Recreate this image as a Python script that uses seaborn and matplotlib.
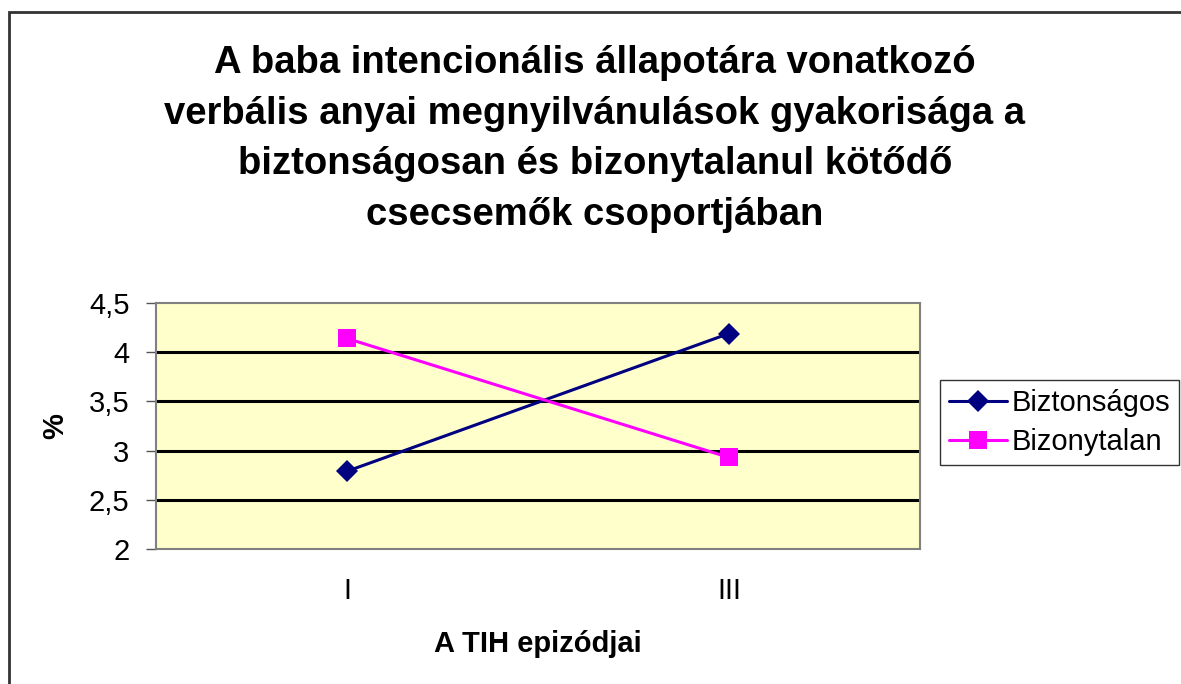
import pandas as pd
import numpy as np
import matplotlib
matplotlib.use("Agg")
import matplotlib.pyplot as plt
import seaborn as sns
from matplotlib.patches import Rectangle
from matplotlib.lines import Line2D

# adatok
epizodok = ["I", "III"]
biztonsagos = [2.79, 4.19]
bizonytalan = [4.14, 2.93]
y_ticks = [2, 2.5, 3, 3.5, 4, 4.5]
y_tick_labels = ["2", "2,5", "3", "3,5", "4", "4,5"]

df = pd.DataFrame({
    "epizod": epizodok * 2,
    "ertek": biztonsagos + bizonytalan,
    "csoport": ["Biztonságos"] * 2 + ["Bizonytalan"] * 2,
})

sns.set_style("white")
plt.rcParams["font.family"] = ["Liberation Sans", "DejaVu Sans"]
plt.rcParams["text.color"] = "black"
plt.rcParams["axes.labelcolor"] = "black"
plt.rcParams["xtick.color"] = "black"
plt.rcParams["ytick.color"] = "black"

fig = plt.figure(figsize=(11.81, 6.84), dpi=100)
ax = fig.add_axes([156 / 1181, 1 - 549 / 684, (920 - 156) / 1181, (549 - 303) / 684])
ax.set_facecolor("#FFFFCC")

# keret a teljes ábra körül
fig.patches.append(Rectangle((9 / 1181, -0.1), 1.2, 1 - 12 / 684 + 0.1,
                             transform=fig.transFigure, fill=False,
                             edgecolor="#333333", linewidth=2, zorder=0))

for y in y_ticks[1:-1]:
    ax.axhline(y, color="black", linewidth=2.2, zorder=1)

palette = {"Biztonságos": "#000080", "Bizonytalan": "#FF00FF"}
markers = {"Biztonságos": "D", "Bizonytalan": "s"}
sizes = {"Biztonságos": 11, "Bizonytalan": 13}
for grp in ["Biztonságos", "Bizonytalan"]:
    sub = df[df["csoport"] == grp]
    sns.lineplot(data=sub, x="epizod", y="ertek", ax=ax, color=palette[grp],
                 marker=markers[grp], markersize=sizes[grp], markeredgewidth=0,
                 linewidth=2.2, zorder=3, legend=False)

ax.set_xlim(-0.5, 1.5)
ax.set_ylim(2, 4.5)
ax.set_yticks(y_ticks)
ax.set_yticklabels(y_tick_labels, fontsize=21)
ax.set_xticks([0, 1])
ax.set_xticklabels(epizodok, fontsize=21)
ax.set_xticks([-0.5, 0.5, 1.5], minor=True)
ax.tick_params(axis="x", which="major", length=0, pad=20, labelcolor="black")
ax.tick_params(axis="x", which="minor", length=6, color="#555555", width=1, direction="out")
ax.tick_params(axis="y", length=7, color="#555555", width=1, direction="out", left=True,
               pad=12, labelcolor="black")

for side in ["top", "right", "bottom", "left"]:
    ax.spines[side].set_color("#808080")
    ax.spines[side].set_linewidth(1.5)

ax.set_xlabel("A TIH epizódjai", fontsize=21, fontweight="bold", labelpad=18, color="black")
ax.set_ylabel("%", fontsize=21, fontweight="bold", color="black", va="center")
ax.yaxis.set_label_coords((55 - 156) / 764, (549 - 426) / 246)

fig.text(595 / 1181, 1 - 139 / 684,
         "A baba intencionális állapotára vonatkozó\n"
         "verbális anyai megnyilvánulások gyakorisága a\n"
         "biztonságosan és bizonytalanul kötődő\n"
         "csecsemők csoportjában",
         ha="center", va="center", fontsize=27.5, fontweight="bold", linespacing=1.53,
         color="black")

handles = [
    Line2D([], [], color=palette[g], marker=markers[g], markersize=sizes[g],
           markeredgewidth=0, linewidth=2.2, label=g)
    for g in ["Biztonságos", "Bizonytalan"]
]
leg = fig.legend(handles=handles, loc="upper left",
                 bbox_to_anchor=(940 / 1181, 1 - 380 / 684),
                 fontsize=21, frameon=True, fancybox=False, edgecolor="black",
                 handlelength=2.0, handletextpad=0.15, borderpad=0.3,
                 labelspacing=0.4, borderaxespad=0)
leg.get_frame().set_linewidth(1)

fig.savefig("out.png", dpi=100)
